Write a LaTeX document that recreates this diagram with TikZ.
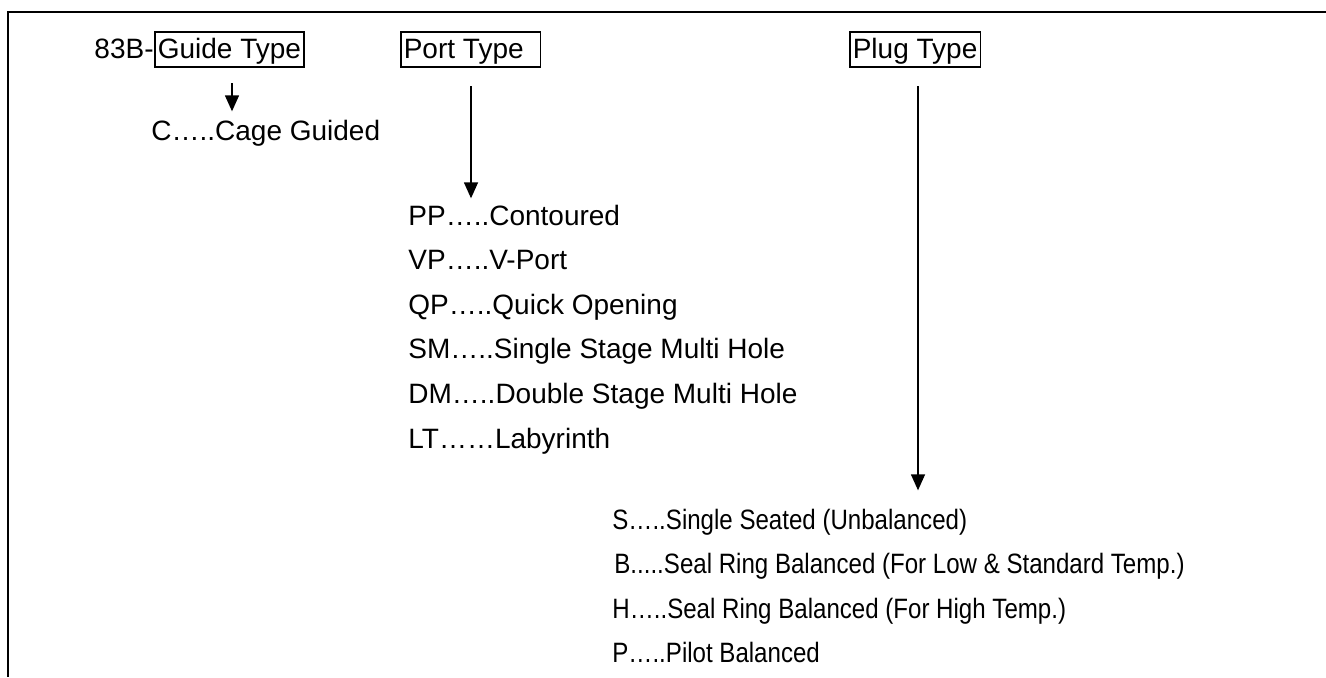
\documentclass[tikz,border=0pt]{standalone}
\usepackage{fontspec}
\usepackage{graphicx}
\setmainfont{Liberation Sans}
\usetikzlibrary{arrows.meta}
\tikzset{
  hdr/.style={draw, line width=0.8pt, inner xsep=1.5pt, inner ysep=1pt, text height=12pt, text depth=3.5pt, anchor=base west},
  item/.style={inner sep=0pt, anchor=base west},
  pointer/.style={-{Triangle[length=8pt,width=7pt]}, line width=0.7pt},
}
\newcommand{\narrow}[1]{\scalebox{0.86}[1]{#1}}

\begin{document}
\begin{tikzpicture}[x=0.5pt, y=-0.5pt, font=\fontsize{14}{16}\selectfont]
        \useasboundingbox (0,0) rectangle (1326,677);
        \def\d{44.6}
        % Frame
        \draw[line width=1.2pt] (1326,12) -- (8,12) -- (8,677);
        % Header boxes
        \node[hdr] (GT) at (154,58) {Guide Type};
        \node[item, anchor=base east] (code) at (GT.base west) {83B-};
        \node[hdr] (PT) at (400,58) {Port Type\kern7pt};
        \node[hdr] (PG) at (849,58) {Plug Type};
        % Guide options
        \node[item] (C) at (151,140) {C…..Cage Guided};
        % Port options
        \node[item] (PP) at (408,225) {PP…..Contoured};
        \node[item] (VP) at (408,225+\d) {VP…..V-Port};
        \node[item] (QP) at (408,225+2*\d) {QP…..Quick Opening};
        \node[item] (SM) at (408,225+3*\d) {SM…..Single Stage Multi Hole};
        \node[item] (DM) at (408,225+4*\d) {DM…..Double Stage Multi Hole};
        \node[item] (LT) at (408,225+5*\d) {LT……Labyrinth};
        % Plug options
        \node[item] (S) at (612,529) {\narrow{S…..Single Seated (Unbalanced)}};
        \node[item] (B) at (614,529+\d) {\narrow{B.....Seal Ring Balanced (For Low \& Standard Temp.)}};
        \node[item] (H) at (612,529+2*\d) {\narrow{H…..Seal Ring Balanced (For High Temp.)}};
        \node[item] (P) at (612,529+3*\d) {\narrow{P…..Pilot Balanced}};
        % Arrows
        \coordinate (g0) at (232,83);
        \coordinate (p0) at (471,86);
        \coordinate (q0) at (918,86);
        \draw[pointer, shorten >=4pt] (g0) -- (g0 |- C.north);
        \draw[pointer, shorten >=3pt] (p0) -- (p0 |- PP.north);
        \draw[pointer, shorten >=9pt] (q0) -- (q0 |- S.north);
    \end{tikzpicture}
\end{document}
